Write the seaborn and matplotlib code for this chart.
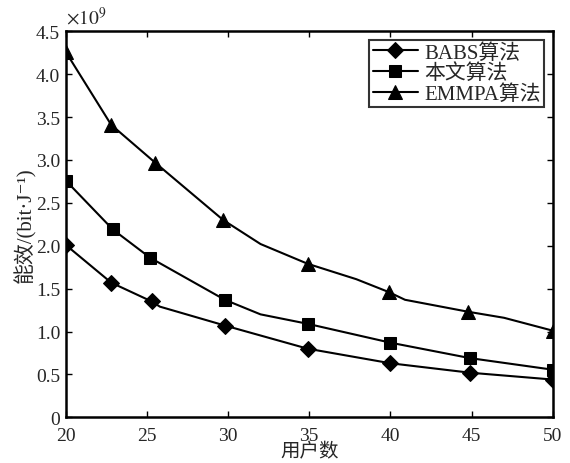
import numpy as np
import pandas as pd
import matplotlib
matplotlib.use("Agg")
import matplotlib.pyplot as plt
import seaborn as sns

# values (unit: x10^9 bit/J)
babs_x = [20, 22.8, 25.3, 25.8, 29.8, 34.9, 40, 44.9, 50]
babs_y = [2.01, 1.57, 1.35, 1.29, 1.07, 0.80, 0.63, 0.52, 0.44]
babs_marks = [0, 1, 2, 4, 5, 6, 7, 8]

ours_x = [20, 22.9, 25.2, 29.8, 32, 34.9, 40, 44.9, 50]
ours_y = [2.76, 2.19, 1.86, 1.37, 1.20, 1.09, 0.87, 0.69, 0.555]
ours_marks = [0, 1, 2, 3, 5, 6, 7, 8]

emmpa_x = [20, 22.8, 25.5, 29.7, 32, 34.9, 37.9, 39.9, 40.9, 44.8, 47, 50]
emmpa_y = [4.26, 3.41, 2.97, 2.30, 2.02, 1.79, 1.61, 1.46, 1.37, 1.23, 1.16, 1.01]
emmpa_marks = [0, 1, 2, 3, 5, 7, 9, 11]

series_names = ["BABS算法", "本文算法", "EMMPA算法"]
x_ticks = [20, 25, 30, 35, 40, 45, 50]
y_ticks = [0, 0.5, 1.0, 1.5, 2.0, 2.5, 3.0, 3.5, 4.0, 4.5]
y_ticklabels = ["0", "0.5", "1.0", "1.5", "2.0", "2.5", "3.0", "3.5", "4.0", "4.5"]

sns.set_style("ticks")
plt.rcParams["font.family"] = ["Liberation Serif", "Noto Sans CJK SC", "DejaVu Sans"]
plt.rcParams["mathtext.fontset"] = "stix"

fig = plt.figure(figsize=(5.7, 4.64), dpi=100)
ax = fig.add_axes([0.1153, 0.0985, 0.8544, 0.8319])

series = [
    (babs_x, babs_y, babs_marks, "D", 8.5),
    (ours_x, ours_y, ours_marks, "s", 8.5),
    (emmpa_x, emmpa_y, emmpa_marks, "^", 9.5),
]
for name, (xs, ys, marks, mk, ms) in zip(series_names, series):
    df = pd.DataFrame({"users": xs, "ee": ys})
    sns.lineplot(data=df, x="users", y="ee", ax=ax, color="black", lw=1.5,
                 marker=mk, markersize=ms, markevery=marks,
                 markeredgecolor="black", markerfacecolor="black", label=name)

ax.set_xlim(20, 50)
ax.set_ylim(0, 4.5)
ax.set_xticks(x_ticks)
ax.set_yticks(y_ticks)
ax.set_yticklabels(y_ticklabels)
ax.tick_params(direction="in", length=4, width=1, labelsize=14,
               top=True, right=True, color="black")
ax.tick_params(axis="x", pad=7)
ax.tick_params(axis="y", pad=4)
for sp in ax.spines.values():
    sp.set_linewidth(1.8)
    sp.set_color("black")

ax.set_xlabel("用户数", fontsize=14, labelpad=-1)
ax.set_ylabel("能效/(bit·J⁻¹)", fontsize=15, labelpad=0)
ax.text(0.0, 1.01, r"$\times10^{9}$", transform=ax.transAxes,
        fontsize=14, ha="left", va="bottom")

leg = ax.legend(loc="upper right", fontsize=15, frameon=True, fancybox=False,
                edgecolor="black", handlelength=2.2, handletextpad=0.3,
                borderpad=0.15, labelspacing=0.05, borderaxespad=0.4)
leg.get_frame().set_linewidth(1.5)

fig.savefig("out.png", dpi=100)
